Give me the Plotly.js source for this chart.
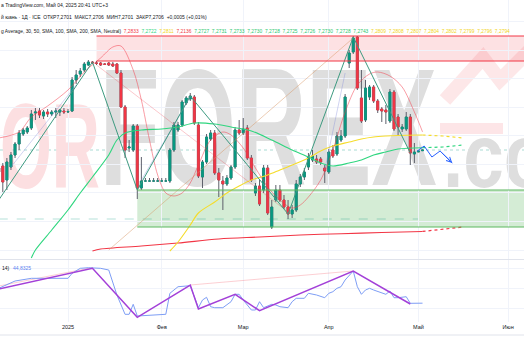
<!DOCTYPE html>
<html><head><meta charset="utf-8">
<script src="https://cdn.plot.ly/plotly-3.0.1.min.js"></script>
<style>html,body{margin:0;padding:0;background:#fff;overflow:hidden}#chart{width:524px;height:350px}</style>
</head><body><div id="chart"></div>
<script>
// ---------- DATA ----------
const tickVals = ["2025-01-01","2025-02-03","2025-03-03","2025-04-01","2025-05-01","2025-06-02"];
const tickText = ["2025","Фев","Мар","Апр","Май","Июн"];

const opens = [7.2580,7.2594,7.2496,7.2587,7.2671,7.2748,7.2818,7.2832,7.2860,7.2965,
7.2979,7.2944,7.2972,7.2958,7.2972,7.2972,7.2979,7.2972,7.2979,7.3196,
7.3238,7.3266,7.3301,7.3322,7.3315,7.3315,7.3308,7.3315,7.3308,7.3308,
7.3245,7.3007,7.2720,7.2706,7.2874,7.2440,7.2489,7.2489,7.2489,7.2489,
7.2489,7.2489,7.2489,7.2706,7.2846,7.2881,7.3035,7.3063,7.3077,7.2881,
7.2517,7.2622,7.2783,7.2825,7.2545,7.2489,7.2468,7.2510,7.2587,7.2846,
7.2825,7.2860,7.2650,7.2405,7.2454,7.2426,7.2580,7.2167,7.2356,7.2426,
7.2356,7.2307,7.2258,7.2286,7.2468,7.2517,7.2587,7.2636,7.2643,7.2643,
7.2580,7.2552,7.2706,7.2678,7.2776,7.2804,7.3315,7.3392,7.3497,7.3070,
7.2916,7.3077,7.3147,7.3049,7.2993,7.2986,7.2909,7.3112,7.2937,7.2853,
7.2853,7.2937,7.2678,7.2692,7.2701];
const highs = [7.2601,7.2615,7.2650,7.2692,7.2762,7.2846,7.2860,7.2874,7.2986,7.3000,
7.3000,7.2986,7.2993,7.2986,7.3000,7.2993,7.3000,7.2993,7.3217,7.3266,
7.3280,7.3322,7.3336,7.3329,7.3329,7.3322,7.3315,7.3322,7.3322,7.3315,
7.3266,7.3021,7.2776,7.2888,7.2888,7.2657,7.2510,7.2510,7.2510,7.2510,
7.2510,7.2510,7.2720,7.2902,7.2902,7.3056,7.3084,7.3105,7.3091,7.2902,
7.2636,7.2818,7.2846,7.2846,7.2580,7.2524,7.2531,7.2601,7.2867,7.2916,
7.2930,7.2881,7.2671,7.2475,7.2496,7.2601,7.2601,7.2356,7.2461,7.2461,
7.2391,7.2356,7.2321,7.2496,7.2538,7.2580,7.2685,7.2706,7.2671,7.2657,
7.2601,7.2713,7.2741,7.2832,7.2846,7.3098,7.3406,7.3504,7.3504,7.3266,
7.3196,7.3161,7.3161,7.3063,7.3007,7.3021,7.3133,7.3126,7.2958,7.2888,
7.2972,7.2958,7.2755,7.2699,7.2706];
const lows = [7.2524,7.2412,7.2426,7.2566,7.2650,7.2706,7.2804,7.2818,7.2846,7.2916,
7.2930,7.2923,7.2937,7.2944,7.2930,7.2944,7.2958,7.2965,7.2972,7.3168,
7.3217,7.3252,7.3294,7.3308,7.3301,7.3294,7.3301,7.3294,7.3287,7.3238,
7.3000,7.2650,7.2692,7.2692,7.2363,7.2426,7.2489,7.2489,7.2489,7.2489,
7.2489,7.2489,7.2475,7.2692,7.2832,7.2867,7.3021,7.3049,7.2881,7.2510,
7.2440,7.2608,7.2769,7.2531,7.2377,7.2286,7.2454,7.2496,7.2573,7.2811,
7.2811,7.2636,7.2482,7.2384,7.2314,7.2405,7.2251,7.2153,7.2342,7.2342,
7.2293,7.2223,7.2230,7.2272,7.2447,7.2496,7.2566,7.2622,7.2608,7.2601,
7.2475,7.2538,7.2650,7.2664,7.2762,7.2790,7.3280,7.3378,7.3126,7.2895,
7.2902,7.3056,7.3035,7.2965,7.2902,7.2888,7.2895,7.2839,7.2804,7.2832,
7.2839,7.2601,7.2615,7.2692,7.2701];
const closes = [7.2552,7.2482,7.2622,7.2671,7.2748,7.2825,7.2846,7.2860,7.2958,7.2972,
7.2951,7.2972,7.2958,7.2972,7.2979,7.2986,7.2972,7.2975,7.3196,7.3231,
7.3259,7.3308,7.3322,7.3318,7.3313,7.3301,7.3306,7.3301,7.3294,7.3245,
7.3007,7.2706,7.2727,7.2874,7.2440,7.2489,7.2489,7.2489,7.2489,7.2489,
7.2489,7.2489,7.2706,7.2881,7.2881,7.3042,7.3070,7.3084,7.2895,7.2524,
7.2622,7.2797,7.2825,7.2545,7.2496,7.2468,7.2510,7.2587,7.2846,7.2825,
7.2853,7.2650,7.2496,7.2454,7.2328,7.2580,7.2265,7.2307,7.2426,7.2356,
7.2307,7.2258,7.2286,7.2468,7.2517,7.2552,7.2657,7.2664,7.2622,7.2622,
7.2559,7.2692,7.2664,7.2804,7.2804,7.3077,7.3385,7.3490,7.3140,7.2909,
7.3140,7.3147,7.3049,7.2986,7.2979,7.2972,7.3112,7.2853,7.2867,7.2867,
7.2937,7.2685,7.2692,7.2699,7.2706];

// moving averages: bar index -> value
const maFastIdx = [0,5,8,12,17,21,25,28,30,33,35,37,39,41,43,45,47,49,52,55,57,60,63,66,69,72,74,76,79,82,85,88,91,93,96,99,102,104];
const maFastVal = [7.2790,7.2832,7.2937,7.3014,7.3126,7.3252,7.3350,7.3427,7.3434,7.3266,7.3056,7.2776,7.2531,7.2405,7.2384,7.2405,7.2475,7.2601,7.2776,7.2832,7.2811,7.2720,7.2580,7.2447,7.2356,7.2300,7.2321,7.2377,7.2496,7.2706,7.2972,7.3161,7.3238,7.3252,7.3224,7.3147,7.2972,7.2833];
const ma50Idx = [8,9,13,17,20,23,27,29,31,35,40,44,48,53,57,62,67,72,76,79,82,86,89,92,95,98,104];
const ma50Val = [7.1950,7.2006,7.2146,7.2286,7.2405,7.2517,7.2671,7.2776,7.2825,7.2846,7.2853,7.2867,7.2895,7.2888,7.2867,7.2839,7.2776,7.2706,7.2657,7.2615,7.2594,7.2615,7.2636,7.2671,7.2692,7.2713,7.2722];
const ma100Idx = [42,44,47,49,53,56,59,62,66,69,72,76,79,82,86,89,92,95,98,104];
const ma100Val = [7.1999,7.2062,7.2181,7.2265,7.2342,7.2405,7.2454,7.2496,7.2531,7.2566,7.2601,7.2650,7.2699,7.2734,7.2762,7.2783,7.2797,7.2804,7.2808,7.2811];
const ma200Idx = [23,25,35,44,54,64,74,84,94,104];
const ma200Val = [7.1999,7.2013,7.2034,7.2055,7.2083,7.2097,7.2111,7.2120,7.2128,7.2136];
const projIdx = [104,109,114];
const proj100Val = [7.2811,7.2804,7.2790];
const proj50Val = [7.2722,7.2727,7.2741];
const proj200Val = [7.2136,7.2150,7.2167];

// drawings
const zigIdx = [0,23,34,47,71,87,101];
const zigVal = [7.2356,7.3322,7.2426,7.3084,7.2258,7.3497,7.2685];
const lavIdx = [3,19,null,35,47,null,80,85];
const lavVal = [7.2587,7.3161,null,7.2496,7.3077,null,7.2566,7.3245];
const diagRedIdx = [24,71];
const diagRedVal = [7.3301,7.2272];
const diagTanIdx = [27,87];
const diagTanVal = [7.2006,7.3490];
const fcIdx = [102.7,104.4,106.3,108.3,111.3];
const fcVal = [7.2699,7.2734,7.2657,7.2699,7.2615];
const zoneRed = {start:24, low:7.3329, high:7.3504};
const zoneGreen = {start:34, low:7.2167, high:7.2426};
const lastPrice = 7.2706;
const levelLow = 7.2223;

// RSI
const rsiIdx = [0,2,4,8,13,17,18,20,22,25,27,28,29,31,32,33,34,41,42,44,46,47,49,50,51,52,53,55,57,58,59,60,62,63,64,65,67,68,69,71,72,73,75,76,78,80,81,82,83,84,85,86,87,88,89,90,91,92,94,95,96,97,98,100,101,102,104];
const rsiVal = [59.7,63.7,67.0,69.7,69.7,69.7,74.7,79.7,80.3,79.7,78.0,66.3,53.0,33.7,33.7,43.7,32.0,33.7,54.7,61.3,62.3,62.3,40.3,48.0,50.7,41.3,40.3,40.3,46.3,53.7,53.7,48.0,38.0,38.0,46.3,40.3,43.7,43.0,41.3,40.3,46.3,49.7,49.7,54.7,53.0,50.3,54.7,56.3,59.7,61.3,68.0,72.0,77.0,61.3,53.7,58.0,59.7,58.0,54.7,53.7,57.0,50.3,50.3,51.3,44.7,44.7,44.83];
const rsiZigIdx = [0,23,34,47,49,58,64,87,101];
const rsiZigVal = [59.0,79.7,30.7,63.0,39.0,53.7,37.3,77.0,44.0];
const rsiDivIdx = [0,23,null,47,87];
const rsiDivVal = [62.0,80.5,null,63.0,77.0];

// texts
const headerLine1 = "а TradingView.com, Май 04, 2025 20:41 UTC+3";
const headerLine2 = "й юань · 1Д · ICE\u00a0\u00a0ОТКР7,2701\u00a0\u00a0МАКС7,2706\u00a0\u00a0МИН7,2701\u00a0\u00a0ЗАКР7,2706\u00a0\u00a0+0,0005 (+0,01%)";
const headerLine3 = "g Average, 30, 50, SMA, 100, SMA, 200, SMA, Neutral)";
const maLegendVals = ["7,2833","7,2722","7,2811","7,2136","7,2727","7,2731","7,2733","7,2730","7,2728","7,2725","7,2726","7,2730","7,2728","7,2743","7,2809","7,2808","7,2807","7,2804","7,2802","7,2799","7,2796","7,2794"];
const rsiLabel = "14)";
const rsiValueText = "44,8325";
const watermark = ["OR", "FOREX", ".com"];

// ---------- STYLE ----------
const C = {up:'#089981', dn:'#f23645', wick:'#5d606b', red:'#f23645', green:'#2fd67f', yellow:'#f5dc2a',
  salmon:'rgba(242,54,69,0.55)', teal:'#3d9a80', text:'#131722', grid:'#f0f3fa'};
const legendColors = [C.red,C.green,'#f2d423',C.red].concat(Array(10).fill('#2cc870'), Array(8).fill('#f2d423'));
const FONT = 'Liberation Sans, Arial, sans-serif';

// ---------- CALENDAR (weekday bars) ----------
const dates = [];
(function(){ let t = Date.UTC(2024,11,9); while (dates.length < 150) { const d = new Date(t); const w = d.getUTCDay(); if (w!==0 && w!==6) dates.push(d.toISOString().slice(0,10)); t += 86400000; } })();
function at(f){ if (f===null || f===undefined) return null; const k = Math.floor(f); const base = Date.parse(dates[k]+'T00:00:00Z'); return new Date(base + (f-k)*86400000).toISOString().slice(0,19).replace('T',' '); }

const candleDates = dates.slice(0, opens.length);
const bodyHigh = opens.map((o,i)=>Math.max(o,closes[i]));
const bodyLow = opens.map((o,i)=>Math.min(o,closes[i]));

function line(idx, val, color, width, dash, yax, shape){
  const l = {color:color, width:width, dash:dash||'solid'};
  if (shape==='spline'){ l.shape='spline'; l.smoothing=0.9; }
  return {type:'scatter', mode:'lines', x: idx.map(at), y: val, xaxis:'x', yaxis: yax||'y', line:l, hoverinfo:'skip', connectgaps:false};
}

const traces = [
  {type:'candlestick', x:candleDates, open:opens, high:highs, low:lows, close:closes, xaxis:'x', yaxis:'y',
   increasing:{line:{color:C.wick,width:1}, fillcolor:C.wick}, decreasing:{line:{color:C.wick,width:1}, fillcolor:C.wick},
   whiskerwidth:0, hoverinfo:'skip'},
  {type:'candlestick', x:candleDates, open:opens, high:bodyHigh, low:bodyLow, close:closes, xaxis:'x', yaxis:'y',
   increasing:{line:{color:C.up,width:0.7}, fillcolor:C.up}, decreasing:{line:{color:C.dn,width:0.7}, fillcolor:C.dn},
   whiskerwidth:0, hoverinfo:'skip'},
  line(ma200Idx, ma200Val, C.red, 1.1, 'solid', 'y', 'spline'),
  line(ma100Idx, ma100Val, C.yellow, 1.1, 'solid', 'y', 'spline'),
  line(ma50Idx, ma50Val, C.green, 1.1, 'solid', 'y', 'spline'),
  line(maFastIdx, maFastVal, C.salmon, 0.9, 'solid', 'y', 'spline'),
  line(projIdx, proj100Val, C.yellow, 1.2, 'dot'),
  line(projIdx, proj50Val, C.green, 1.2, 'dot'),
  line(projIdx, proj200Val, C.red, 1.2, 'dot'),
  line(lavIdx, lavVal, 'rgba(125,135,215,0.45)', 0.8),
  line(diagRedIdx, diagRedVal, 'rgba(242,54,69,0.35)', 0.8),
  line(diagTanIdx, diagTanVal, 'rgba(214,150,100,0.6)', 0.8),
  line(zigIdx, zigVal, C.teal, 1),
  line(fcIdx, fcVal, '#2962ff', 1),
  line(rsiDivIdx, rsiDivVal, 'rgba(242,54,69,0.3)', 0.8, 'solid', 'y2'),
  line(rsiIdx, rsiVal, '#7e9ef5', 1, 'solid', 'y2'),
  line(rsiZigIdx, rsiZigVal, '#a340d8', 1.5, 'solid', 'y2')
];

const px = v => 1 - v/350;
const shapes = [
  {type:'rect', xref:'x', yref:'y', x0:at(zoneRed.start), x1:at(140), y0:zoneRed.low, y1:zoneRed.high, fillcolor:'rgba(242,54,69,0.15)', line:{width:0}, layer:'below'},
  {type:'line', xref:'x', yref:'y', x0:at(zoneRed.start), x1:at(140), y0:zoneRed.high, y1:zoneRed.high, line:{color:C.red,width:1}},
  {type:'line', xref:'x', yref:'y', x0:at(zoneRed.start), x1:at(140), y0:zoneRed.low, y1:zoneRed.low, line:{color:C.red,width:1.2}},
  {type:'rect', xref:'x', yref:'y', x0:at(zoneGreen.start), x1:at(140), y0:zoneGreen.low, y1:zoneGreen.high, fillcolor:'rgba(76,175,80,0.24)', line:{width:0}, layer:'below'},
  {type:'line', xref:'x', yref:'y', x0:at(zoneGreen.start), x1:at(140), y0:zoneGreen.high, y1:zoneGreen.high, line:{color:'#5cb860',width:1.2}},
  {type:'line', xref:'x', yref:'y', x0:at(zoneGreen.start), x1:at(140), y0:zoneGreen.low, y1:zoneGreen.low, line:{color:'#5cb860',width:1.2}},
  {type:'line', xref:'paper', yref:'y', x0:0, x1:1, y0:lastPrice, y1:lastPrice, line:{color:'rgba(8,153,129,0.35)',width:1,dash:'dot'}, layer:'below'},
  {type:'line', xref:'x', yref:'y', x0:at(0), x1:at(103), y0:levelLow, y1:levelLow, line:{color:'rgba(8,153,129,0.3)',width:1,dash:'dash'}, layer:'below'},
  {type:'path', xref:'paper', yref:'paper', path:`M ${445/524},${px(100)} L ${483/524},${px(58)} L ${500/524},${px(80)} L ${530/524},${px(50)}`, line:{color:'rgba(242,54,69,0.12)',width:14}, layer:'below'},
  {type:'rect', xref:'paper', yref:'paper', x0:440/524, x1:503/524, y0:px(134), y1:px(123), fillcolor:'rgba(242,54,69,0.13)', line:{width:0}, layer:'below'},
  {type:'line', xref:'paper', yref:'paper', x0:0, x1:1, y0:px(259.5), y1:px(259.5), line:{color:'#e0e3eb',width:1}},
  {type:'line', xref:'paper', yref:'paper', x0:0, x1:1, y0:px(335), y1:px(335), line:{color:'#e0e3eb',width:1}}
];

const txt = (s, x, y, size, color, extra) => Object.assign({xref:'paper', yref:'paper', x:x/524, y:px(y), xanchor:'left', yanchor:'middle', text:s, showarrow:false, borderpad:0, font:{family:FONT, size:size, color:color}}, extra||{});
const legendHtml = headerLine3 + '\u00a0\u00a0' + maLegendVals.map((v,i)=>`<span style="color:${legendColors[i]}">${v}</span>`).join('\u00a0\u00a0');

// watermark boxes: text, centre x, centre y, font size, squeezed width, colour
const wmSpec = [
  [watermark[0], 50, 146, 120, 100, '#fcdfe1'],
  [watermark[1], 268.5, 126.5, 168, 337, '#dedede'],
  [watermark[2], 528, 156, 90, 170, '#dedede']
];
const wmFit = {};
const annotations = wmSpec.map(s => { wmFit[s[0]] = s[4]; return {xref:'paper', yref:'paper', x:s[1]/524, y:px(s[2]), xanchor:'center', yanchor:'middle', text:s[0], showarrow:false, borderpad:0, font:{family:FONT, size:s[3], color:s[5], weight:700}}; });
annotations.push(
  txt(headerLine1, 0, 5.5, 5, C.text),
  txt(headerLine2, 0, 16.5, 5, C.text),
  txt(legendHtml, 0, 32, 4.9, C.text),
  txt(rsiLabel, 1, 268, 5, C.text),
  txt(rsiValueText, 12, 268, 5, '#5b7ff0'),
  {xref:'x', yref:'y', axref:'x', ayref:'y', x:at(fcIdx[fcIdx.length-1]), y:fcVal[fcVal.length-1], ax:at(fcIdx[fcIdx.length-2]), ay:fcVal[fcVal.length-2], text:'', showarrow:true, arrowhead:5, arrowsize:1, arrowwidth:1, arrowcolor:'#2962ff'}
);

const layout = {
  width:524, height:350, margin:{l:0,r:0,t:0,b:0}, paper_bgcolor:'#ffffff', plot_bgcolor:'#ffffff', showlegend:false,
  font:{family:FONT, color:C.text},
  xaxis:{type:'date', range:[at(0.31), at(128.9)], rangebreaks:[{bounds:['sat','mon']}], anchor:'y2', domain:[0,1],
    tickmode:'array', tickvals:tickVals, ticktext:tickText, tickfont:{family:FONT, size:5.5, color:C.text},
    showgrid:true, gridcolor:C.grid, gridwidth:1, zeroline:false, showline:false, ticks:'', rangeslider:{visible:false}, fixedrange:true},
  yaxis:{domain:[0.26,1], range:[7.1943,7.3756], showticklabels:false, tickmode:'linear', tick0:7.2006, dtick:0.02, gridcolor:C.grid, zeroline:false, fixedrange:true},
  yaxis2:{domain:[0.08,0.2571], range:[26,88], tickmode:'array', tickvals:[40,60,80], showticklabels:false, gridcolor:C.grid, zeroline:false, fixedrange:true},
  shapes:shapes, annotations:annotations
};

Plotly.newPlot('chart', traces, layout, {staticPlot:true, displayModeBar:false}).then(gd => {
  const svg = gd.querySelector('.main-svg');
  const cart = svg.querySelector('.cartesianlayer');
  gd.querySelectorAll('g.annotation').forEach(g => {
    const t = g.querySelector('text.annotation-text');
    if (!t) return;
    const w = wmFit[t.textContent];
    if (w) {
      const bb = t.getBBox();
      const cx = bb.x + bb.width/2;
      const sx = w / bb.width;
      t.setAttribute('transform', `translate(${cx},0) scale(${sx},1) translate(${-cx},0)`);
      svg.insertBefore(g, cart);
    }
  });
});
</script></body></html>
